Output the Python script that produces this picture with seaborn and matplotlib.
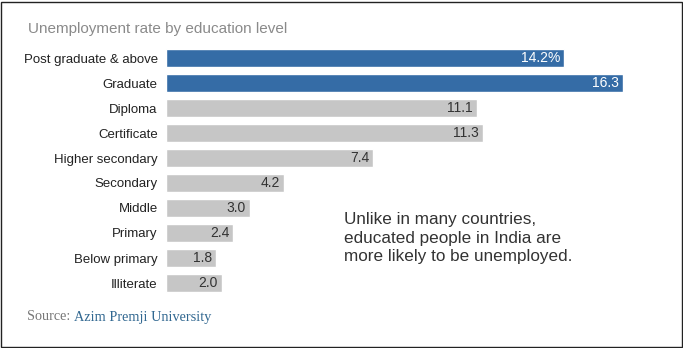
import matplotlib
matplotlib.use("Agg")
import matplotlib.pyplot as plt
import seaborn as sns
import pandas as pd
from matplotlib.patches import Rectangle

categories = ["Post graduate & above", "Graduate", "Diploma", "Certificate",
              "Higher secondary", "Secondary", "Middle", "Primary",
              "Below primary", "Illiterate"]
rates = [14.2, 16.3, 11.1, 11.3, 7.4, 4.2, 3.0, 2.4, 1.8, 2.0]
value_labels = ["14.2%", "16.3", "11.1", "11.3", "7.4", "4.2", "3.0", "2.4", "1.8", "2.0"]
highlight = ["yes", "yes", "no", "no", "no", "no", "no", "no", "no", "no"]

df = pd.DataFrame({"category": categories, "rate": rates, "hl": highlight})

sns.set_style("white")
plt.rcParams['font.family'] = ['Liberation Sans', 'DejaVu Sans']

W, H = 683, 348
fig = plt.figure(figsize=(W / 100, H / 100), dpi=100)
left, right = 166, 622.7
top, bottom = 45.5, 295.5
ax = fig.add_axes([left / W, 1 - bottom / H, (right - left) / W, (bottom - top) / H])

blue = "#356ca6"
gray = "#c6c6c6"
sns.barplot(data=df, y="category", x="rate", hue="hl", orient="h",
            palette={"yes": blue, "no": gray}, dodge=False, width=0.74,
            legend=False, ax=ax, saturation=1)

ax.set_xlim(0, 16.3)
ax.set_ylim(len(categories) - 0.5, -0.5)
ax.set_xlabel("")
ax.set_ylabel("")
ax.set_xticks([])
for s in ax.spines.values():
    s.set_visible(False)
ax.tick_params(axis="y", length=0, pad=6, labelsize=9.5, labelcolor="#222222")

for i, (v, lab, h) in enumerate(zip(rates, value_labels, highlight)):
    ax.text(v - 0.14, i, lab, ha="right", va="center", fontsize=10,
            color="white" if h == "yes" else "#333333")

fig.text(28 / W, 1 - 29 / H, "Unemployment rate by education level",
         ha="left", va="center", fontsize=11, color="#8a8a8a")

fig.text(344 / W, 1 - 238 / H,
         "Unlike in many countries,\neducated people in India are\nmore likely to be unemployed.",
         ha="left", va="center", fontsize=12.3, color="#333333", linespacing=1.3)

t1 = fig.text(27 / W, 1 - 317 / H, "Source: ", ha="left", va="center",
              fontsize=10.3, color="#777777", family="Liberation Serif")
fig.canvas.draw()
bb = t1.get_window_extent()
fig.text(bb.x1 / W, 1 - 317 / H, "Azim Premji University", ha="left", va="center",
         fontsize=10.3, color="#326891", family="Liberation Serif")

fig.patches.append(Rectangle((0.5 / W, 1.5 / H), (W - 2) / W, (H - 3) / H,
                             transform=fig.transFigure, fill=False,
                             edgecolor="#222222", linewidth=1.0))

fig.savefig("out.png", dpi=100)
